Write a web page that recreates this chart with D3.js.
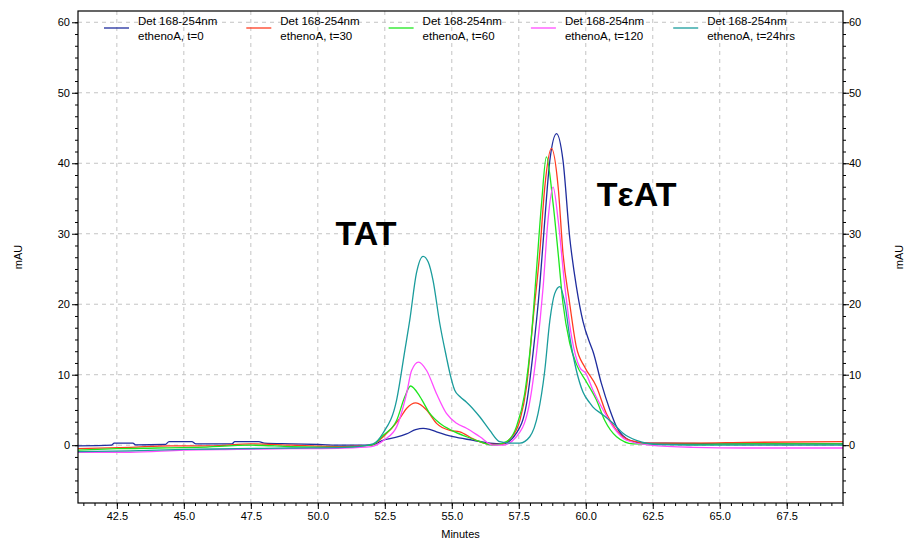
<!DOCTYPE html>
<html>
<head>
<meta charset="utf-8">
<script src="https://cdn.jsdelivr.net/npm/d3@7"></script>
<style>
  body { margin: 0; background: #fff; }
  svg text { font-family: "Liberation Sans", Arial, sans-serif; }
</style>
</head>
<body>
<div id="canvas"></div>
<script>
// chromatogram traces, [minutes, mAU]
const trace_t0 = [[41.05,-0.1],[42.3,0.0],[42.4,0.3],[43.1,0.3],[43.2,0.05],[44.3,0.1],[44.45,0.5],[45.3,0.5],[45.45,0.2],[46.8,0.2],[46.9,0.5],[47.8,0.5],[48.0,0.3],[49.0,0.2],[50.0,0.1],[51.0,0.0],[52.0,0.0],[52.43,0.7],[52.9,1.1],[53.31,1.6],[53.65,2.2],[53.93,2.4],[54.2,2.2],[54.43,1.9],[55.05,1.2],[55.8,0.7],[56.42,0.3],[56.9,0.2],[57.41,1.7],[57.79,5.9],[58.03,13.0],[58.28,22.5],[58.47,31.9],[58.66,40.4],[58.91,44.2],[59.15,40.4],[59.4,29.5],[59.65,22.5],[59.9,17.5],[60.15,14.5],[60.27,13.3],[60.58,8.8],[60.9,5.0],[61.15,2.6],[61.64,0.7],[62.14,0.3],[63,0.3],[65,0.2],[67,0.2],[69.6,0.2]];
const trace_t30 = [[41.05,-0.5],[43,-0.3],[44.5,-0.1],[46,-0.1],[47.5,0.2],[49,0.0],[51,-0.2],[52,0.0],[52.44,1.2],[53.06,3.8],[53.31,5.2],[53.66,6.0],[54.06,5.0],[54.43,3.1],[54.93,2.1],[55.3,1.9],[55.8,0.9],[56.3,0.2],[56.79,0.1],[57.17,0.9],[57.54,3.5],[57.79,8.3],[58.03,17.7],[58.28,27.2],[58.47,36.6],[58.72,42.1],[58.97,36.6],[59.15,27.2],[59.4,20.1],[59.65,13.9],[59.96,11.1],[60.4,8.3],[60.77,4.5],[61.15,2.1],[61.64,0.7],[62.39,0.3],[64,0.3],[66,0.4],[69.6,0.5]];
const trace_t60 = [[41.05,-0.7],[42.5,-0.5],[44,-0.4],[45.5,-0.3],[47.5,0.0],[49,-0.2],[51,-0.3],[52,0.0],[52.44,1.4],[52.94,3.5],[53.25,6.9],[53.46,8.4],[53.81,6.9],[54.18,4.5],[54.55,3.1],[55.05,2.0],[55.55,1.2],[56.05,0.5],[56.54,0.0],[57.04,0.5],[57.41,2.6],[57.72,7.3],[57.97,15.4],[58.16,24.8],[58.35,34.3],[58.53,40.9],[58.78,34.3],[58.97,27.2],[59.15,20.1],[59.4,14.5],[59.65,11.5],[60.02,9.0],[60.4,6.4],[60.71,3.5],[61.15,1.2],[61.77,0.2],[64,0.1],[66,0.2],[69.6,0.2]];
const trace_t120 = [[41.05,-1.0],[43,-1.0],[45,-0.7],[47,-0.6],[49,-0.5],[51,-0.4],[52,-0.2],[52.5,0.8],[52.94,2.6],[53.31,7.3],[53.5,10.6],[53.76,11.8],[54.06,10.6],[54.43,7.3],[54.8,4.5],[55.18,3.1],[55.55,2.4],[56.05,1.2],[56.54,0.0],[56.9,0.0],[57.41,1.2],[57.85,5.0],[58.16,13.0],[58.41,22.5],[58.59,31.9],[58.78,36.6],[58.97,31.9],[59.22,22.5],[59.47,15.4],[59.78,11.0],[60.0,10.2],[60.27,7.8],[60.65,5.0],[61.02,2.6],[61.52,0.7],[62.39,0.0],[64,-0.3],[66,-0.4],[69.6,-0.4]];
const trace_t24h = [[41.05,-0.9],[43,-0.8],[45,-0.6],[47,-0.5],[49,-0.4],[51,-0.3],[52.06,0.2],[52.43,1.7],[52.94,6.4],[53.25,13.5],[53.43,17.7],[53.68,24.4],[53.93,26.8],[54.12,26.0],[54.3,23.4],[54.55,17.3],[54.8,12.5],[54.93,10.2],[55.11,7.8],[55.3,6.9],[55.55,6.1],[56.05,4.0],[56.42,2.1],[56.79,0.5],[57.17,0.3],[57.54,0.3],[57.91,1.2],[58.22,4.5],[58.47,10.6],[58.66,17.7],[58.84,21.5],[59.03,22.5],[59.22,20.1],[59.4,15.4],[59.65,10.6],[59.9,7.5],[60.15,6.0],[60.27,5.4],[60.65,4.3],[61.02,3.1],[61.39,1.7],[61.89,0.7],[62.76,0.1],[65,0.0],[69.6,0.0]];

const seriesNames = ["ethenoA, t=0", "ethenoA, t=30", "ethenoA, t=60", "ethenoA, t=120", "ethenoA, t=24hrs"];
const detectorLabel = "Det 168-254nm";
const xTicks = [42.5, 45.0, 47.5, 50.0, 52.5, 55.0, 57.5, 60.0, 62.5, 65.0, 67.5];
const yTicks = [0, 10, 20, 30, 40, 50, 60];
const peakLabels = [{ text: "TAT", t: 51.8, v: 28.4 }, { text: "TεAT", t: 61.9, v: 34.0 }];

const traces = [trace_t0, trace_t30, trace_t60, trace_t120, trace_t24h];
const colors = ["#1f2d9e", "#ff3b1f", "#1ee61e", "#ff4cff", "#1a9c9c"];

const width = 906, height = 540;
const margin = { top: 11, left: 78, bottom: 37, right: 63 };
const iwidth = width - margin.left - margin.right;
const iheight = height - margin.top - margin.bottom;

const svg = d3.select("#canvas").append("svg")
  .attr("width", width)
  .attr("height", height);

const g = svg.append("g").attr("transform", `translate(${margin.left},${margin.top})`);

const x = d3.scaleLinear().domain([41.05, 69.6]).range([0, iwidth]);
const y = d3.scaleLinear().domain([-8.2, 61.6]).range([iheight, 0]);

// minor ticks, 6 per major step
const xMinor = d3.range(Math.ceil(41.05 / (2.5 / 6)), Math.floor(69.6 / (2.5 / 6)) + 1).map(i => i * 2.5 / 6);
const yMinor = d3.range(Math.ceil(-8.2 / (10 / 6)), Math.floor(61.6 / (10 / 6)) + 1).map(i => i * 10 / 6);

// grid
g.append("g").selectAll("line").data(xTicks).enter().append("line")
  .attr("x1", d => x(d)).attr("x2", d => x(d))
  .attr("y1", 0).attr("y2", iheight)
  .attr("stroke", "#c4c4c4").attr("stroke-dasharray", "4,4");
g.append("g").selectAll("line").data(yTicks).enter().append("line")
  .attr("x1", 0).attr("x2", iwidth)
  .attr("y1", d => y(d)).attr("y2", d => y(d))
  .attr("stroke", "#c4c4c4").attr("stroke-dasharray", "4,4");

// traces
const line = d3.line()
  .x(d => x(d[0]))
  .y(d => y(d[1]))
  .curve(d3.curveMonotoneX);

g.append("g").selectAll("path").data(traces).enter().append("path")
  .attr("d", line)
  .attr("fill", "none")
  .attr("stroke", (d, i) => colors[i])
  .attr("stroke-width", 1.3);

// frame
g.append("rect")
  .attr("width", iwidth).attr("height", iheight)
  .attr("fill", "none").attr("stroke", "#000").attr("stroke-width", 1.2);

// axes
function styleAxis(sel) {
  sel.select(".domain").remove();
  sel.selectAll("line").attr("stroke", "#000");
  sel.selectAll("text").attr("font-size", "11px").attr("fill", "#000")
    .style("font-family", '"Liberation Sans", Arial, sans-serif');
}

g.append("g").attr("transform", `translate(0,${iheight})`)
  .call(d3.axisBottom(x).tickValues(xMinor).tickSize(3).tickFormat(""))
  .call(styleAxis);
g.append("g").attr("transform", `translate(0,${iheight})`)
  .call(d3.axisBottom(x).tickValues(xTicks).tickSize(6).tickPadding(3).tickFormat(d3.format(".1f")))
  .call(styleAxis);

g.append("g")
  .call(d3.axisLeft(y).tickValues(yMinor).tickSize(3).tickFormat(""))
  .call(styleAxis);
g.append("g")
  .call(d3.axisLeft(y).tickValues(yTicks).tickSize(6).tickPadding(2))
  .call(styleAxis);

g.append("g").attr("transform", `translate(${iwidth},0)`)
  .call(d3.axisRight(y).tickValues(yMinor).tickSize(3).tickFormat(""))
  .call(styleAxis);
g.append("g").attr("transform", `translate(${iwidth},0)`)
  .call(d3.axisRight(y).tickValues(yTicks).tickSize(6).tickPadding(0))
  .call(styleAxis);

// axis titles
svg.append("text")
  .attr("x", margin.left + iwidth / 2).attr("y", 538)
  .attr("text-anchor", "middle").attr("font-size", "11px")
  .text("Minutes");
svg.append("text")
  .attr("transform", "translate(22,257) rotate(-90)")
  .attr("text-anchor", "middle").attr("font-size", "11px")
  .text("mAU");
svg.append("text")
  .attr("transform", "translate(903,257) rotate(-90)")
  .attr("text-anchor", "middle").attr("font-size", "11px")
  .text("mAU");

// legend
const legend = svg.append("g").selectAll("g").data(seriesNames).enter().append("g")
  .attr("transform", (d, i) => `translate(${104 + i * 142.3},0)`);
legend.append("line")
  .attr("x1", 0).attr("x2", 25).attr("y1", 28).attr("y2", 28)
  .attr("stroke", (d, i) => colors[i]).attr("stroke-width", 1.3);
legend.append("text")
  .attr("x", 34).attr("y", 25)
  .attr("font-size", "11.5px")
  .text(detectorLabel);
legend.append("text")
  .attr("x", 34).attr("y", 40)
  .attr("font-size", "11.5px")
  .text(d => d);

// peak labels
g.append("g").selectAll("text").data(peakLabels).enter().append("text")
  .attr("x", d => x(d.t)).attr("y", d => y(d.v))
  .attr("text-anchor", "middle")
  .attr("font-size", "34px").attr("font-weight", "bold")
  .text(d => d.text);
</script>
</body>
</html>
